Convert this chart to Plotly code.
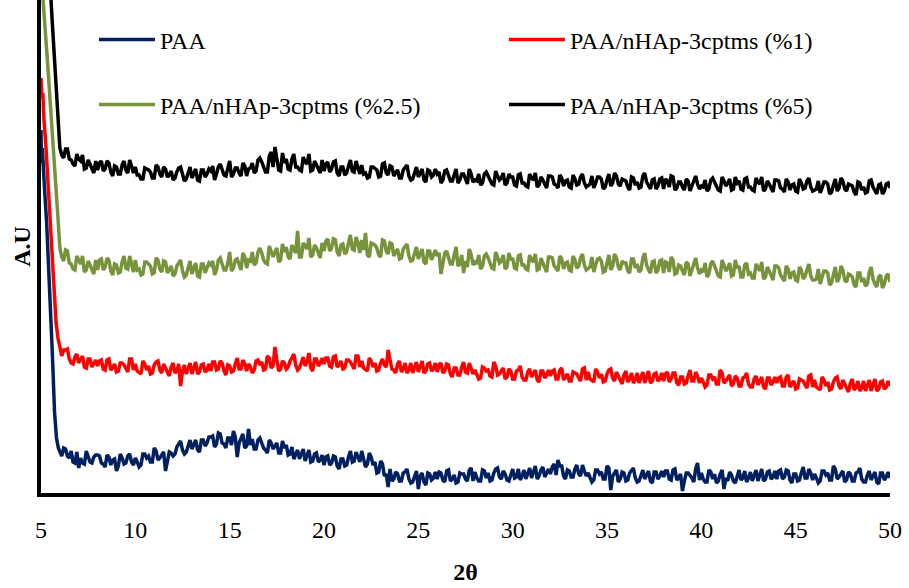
import plotly.graph_objects as go

# ---- data (2-theta grid shared by all scans, intensities in arbitrary units) ----
TWO_THETA = [
    6.0, 6.1, 6.2, 6.3, 6.4, 6.5, 6.6, 6.7, 6.8, 6.9, 7.0, 7.1, 7.2, 7.3, 7.4, 7.5, 7.6, 7.7, 7.8, 7.9,
    8.0, 8.1, 8.2, 8.3, 8.4, 8.5, 8.6, 8.7, 8.8, 8.9, 9.0, 9.1, 9.2, 9.3, 9.4, 9.5, 9.6, 9.7, 9.8, 9.9,
    10.0, 10.1, 10.2, 10.3, 10.4, 10.5, 10.6, 10.7, 10.8, 10.9, 11.0, 11.1, 11.2, 11.3, 11.4, 11.5, 11.6, 11.7, 11.8, 11.9,
    12.0, 12.1, 12.2, 12.3, 12.4, 12.5, 12.6, 12.7, 12.8, 12.9, 13.0, 13.1, 13.2, 13.3, 13.4, 13.5, 13.6, 13.7, 13.8, 13.9,
    14.0, 14.1, 14.2, 14.3, 14.4, 14.5, 14.6, 14.7, 14.8, 14.9, 15.0, 15.1, 15.2, 15.3, 15.4, 15.5, 15.6, 15.7, 15.8, 15.9,
    16.0, 16.1, 16.2, 16.3, 16.4, 16.5, 16.6, 16.7, 16.8, 16.9, 17.0, 17.1, 17.2, 17.3, 17.4, 17.5, 17.6, 17.7, 17.8, 17.9,
    18.0, 18.1, 18.2, 18.3, 18.4, 18.5, 18.6, 18.7, 18.8, 18.9, 19.0, 19.1, 19.2, 19.3, 19.4, 19.5, 19.6, 19.7, 19.8, 19.9,
    20.0, 20.1, 20.2, 20.3, 20.4, 20.5, 20.6, 20.7, 20.8, 20.9, 21.0, 21.1, 21.2, 21.3, 21.4, 21.5, 21.6, 21.7, 21.8, 21.9,
    22.0, 22.1, 22.2, 22.3, 22.4, 22.5, 22.6, 22.7, 22.8, 22.9, 23.0, 23.1, 23.2, 23.3, 23.4, 23.5, 23.6, 23.7, 23.8, 23.9,
    24.0, 24.1, 24.2, 24.3, 24.4, 24.5, 24.6, 24.7, 24.8, 24.9, 25.0, 25.1, 25.2, 25.3, 25.4, 25.5, 25.6, 25.7, 25.8, 25.9,
    26.0, 26.1, 26.2, 26.3, 26.4, 26.5, 26.6, 26.7, 26.8, 26.9, 27.0, 27.1, 27.2, 27.3, 27.4, 27.5, 27.6, 27.7, 27.8, 27.9,
    28.0, 28.1, 28.2, 28.3, 28.4, 28.5, 28.6, 28.7, 28.8, 28.9, 29.0, 29.1, 29.2, 29.3, 29.4, 29.5, 29.6, 29.7, 29.8, 29.9,
    30.0, 30.1, 30.2, 30.3, 30.4, 30.5, 30.6, 30.7, 30.8, 30.9, 31.0, 31.1, 31.2, 31.3, 31.4, 31.5, 31.6, 31.7, 31.8, 31.9,
    32.0, 32.1, 32.2, 32.3, 32.4, 32.5, 32.6, 32.7, 32.8, 32.9, 33.0, 33.1, 33.2, 33.3, 33.4, 33.5, 33.6, 33.7, 33.8, 33.9,
    34.0, 34.1, 34.2, 34.3, 34.4, 34.5, 34.6, 34.7, 34.8, 34.9, 35.0, 35.1, 35.2, 35.3, 35.4, 35.5, 35.6, 35.7, 35.8, 35.9,
    36.0, 36.1, 36.2, 36.3, 36.4, 36.5, 36.6, 36.7, 36.8, 36.9, 37.0, 37.1, 37.2, 37.3, 37.4, 37.5, 37.6, 37.7, 37.8, 37.9,
    38.0, 38.1, 38.2, 38.3, 38.4, 38.5, 38.6, 38.7, 38.8, 38.9, 39.0, 39.1, 39.2, 39.3, 39.4, 39.5, 39.6, 39.7, 39.8, 39.9,
    40.0, 40.1, 40.2, 40.3, 40.4, 40.5, 40.6, 40.7, 40.8, 40.9, 41.0, 41.1, 41.2, 41.3, 41.4, 41.5, 41.6, 41.7, 41.8, 41.9,
    42.0, 42.1, 42.2, 42.3, 42.4, 42.5, 42.6, 42.7, 42.8, 42.9, 43.0, 43.1, 43.2, 43.3, 43.4, 43.5, 43.6, 43.7, 43.8, 43.9,
    44.0, 44.1, 44.2, 44.3, 44.4, 44.5, 44.6, 44.7, 44.8, 44.9, 45.0, 45.1, 45.2, 45.3, 45.4, 45.5, 45.6, 45.7, 45.8, 45.9,
    46.0, 46.1, 46.2, 46.3, 46.4, 46.5, 46.6, 46.7, 46.8, 46.9, 47.0, 47.1, 47.2, 47.3, 47.4, 47.5, 47.6, 47.7, 47.8, 47.9,
    48.0, 48.1, 48.2, 48.3, 48.4, 48.5, 48.6, 48.7, 48.8, 48.9, 49.0, 49.1, 49.2, 49.3, 49.4, 49.5, 49.6, 49.7, 49.8, 49.9,
    50.0,
]

# steep low-angle rise of each scan (5-6 degrees)
PAA_HEAD_X = [5.0, 5.03, 5.07, 5.12, 5.2, 5.3, 5.45, 5.6, 5.72, 5.82, 5.92]
PAA_HEAD_Y = [363, 330, 345, 320, 300, 270, 210, 140, 80, 55, 45]
P1_HEAD_X = [5.0, 5.05, 5.1, 5.15, 5.25, 5.4, 5.55, 5.7, 5.8, 5.9]
P1_HEAD_Y = [415, 395, 400, 375, 350, 300, 250, 195, 170, 155]
P25_HEAD_X = [5.0, 5.1, 5.35, 5.6, 5.8, 5.9]
P25_HEAD_Y = [650, 495, 430, 365, 305, 275]
P5_HEAD_X = [5.0, 5.45, 5.6, 5.75, 5.85, 5.93]
P5_HEAD_Y = [900, 520, 470, 420, 380, 355]

PAA = [
    42, 37, 45, 44, 37, 35, 42, 31, 30, 41, 25, 35, 30, 29, 42, 37, 31, 30, 36, 38,
    38, 37, 30, 29, 26, 38, 36, 28, 33, 34, 22, 27, 39, 35, 29, 30, 37, 39, 31, 28,
    35, 31, 26, 28, 39, 39, 35, 37, 31, 31, 45, 42, 33, 35, 39, 41, 22, 33, 41, 40,
    37, 39, 46, 49, 52, 43, 39, 41, 48, 53, 44, 49, 53, 43, 41, 53, 53, 47, 50, 56,
    56, 57, 46, 49, 60, 59, 50, 49, 45, 55, 55, 48, 62, 56, 36, 50, 54, 59, 45, 47,
    64, 48, 54, 44, 44, 53, 55, 50, 45, 43, 40, 53, 50, 44, 47, 50, 40, 40, 52, 45,
    48, 38, 39, 46, 34, 38, 43, 34, 39, 44, 32, 38, 43, 31, 32, 39, 40, 31, 33, 38,
    28, 36, 37, 28, 30, 37, 36, 27, 24, 34, 34, 27, 28, 36, 42, 31, 32, 41, 37, 31,
    42, 34, 26, 29, 40, 36, 28, 31, 20, 21, 32, 29, 17, 19, 6, 24, 12, 14, 21, 19,
    12, 12, 20, 21, 24, 14, 10, 11, 18, 22, 4, 17, 20, 11, 8, 20, 19, 13, 15, 21,
    14, 21, 20, 13, 11, 22, 23, 12, 14, 18, 10, 11, 20, 19, 19, 14, 12, 23, 25, 12,
    21, 15, 12, 12, 23, 22, 15, 20, 12, 13, 20, 24, 25, 16, 14, 22, 19, 13, 12, 19,
    24, 15, 16, 24, 13, 17, 23, 14, 20, 25, 15, 20, 27, 14, 17, 23, 26, 16, 20, 24,
    19, 26, 29, 18, 33, 27, 27, 17, 14, 23, 22, 16, 16, 24, 28, 19, 17, 28, 22, 17,
    20, 16, 11, 13, 23, 23, 19, 21, 14, 14, 27, 25, 3, 17, 20, 23, 11, 14, 21, 20,
    12, 13, 20, 22, 25, 15, 11, 12, 19, 23, 14, 18, 22, 12, 10, 21, 21, 14, 17, 22,
    16, 22, 22, 14, 13, 23, 24, 13, 15, 19, 2, 12, 20, 20, 18, 15, 11, 24, 30, 13,
    20, 14, 11, 11, 23, 21, 14, 19, 10, 12, 19, 23, 4, 15, 12, 21, 18, 12, 10, 18,
    23, 13, 15, 22, 11, 15, 21, 12, 18, 23, 12, 18, 24, 12, 14, 21, 22, 14, 16, 22,
    14, 22, 23, 14, 16, 23, 22, 13, 10, 19, 19, 12, 13, 20, 26, 15, 15, 24, 20, 13,
    19, 15, 10, 12, 22, 22, 18, 20, 13, 13, 27, 24, 14, 16, 20, 22, 11, 13, 21, 19,
    12, 12, 20, 21, 25, 14, 11, 11, 18, 22, 13, 17, 21, 11, 9, 20, 20, 13, 16, 21,
    15,
]

P1 = [
    145, 137, 143, 143, 144, 134, 130, 129, 136, 139, 130, 133, 137, 126, 125, 134, 134, 126, 129, 133,
    127, 132, 133, 124, 123, 133, 134, 123, 125, 129, 121, 122, 130, 130, 128, 125, 121, 134, 134, 123,
    129, 122, 120, 119, 132, 129, 123, 127, 119, 120, 128, 131, 132, 123, 120, 129, 125, 120, 117, 126,
    130, 120, 122, 129, 107, 122, 128, 119, 125, 130, 119, 125, 131, 119, 121, 128, 129, 121, 123, 129,
    122, 131, 131, 123, 124, 132, 130, 122, 118, 128, 127, 121, 122, 129, 135, 124, 124, 133, 129, 122,
    129, 126, 120, 123, 132, 133, 128, 131, 123, 124, 137, 135, 125, 127, 146, 133, 122, 124, 132, 130,
    124, 126, 132, 135, 139, 128, 123, 125, 131, 136, 127, 131, 140, 125, 122, 134, 134, 127, 130, 135,
    129, 135, 135, 127, 126, 136, 137, 126, 128, 132, 124, 125, 133, 133, 131, 128, 124, 137, 137, 126,
    132, 125, 123, 122, 135, 132, 126, 130, 122, 123, 130, 134, 128, 126, 143, 132, 124, 123, 120, 129,
    132, 121, 124, 130, 120, 123, 130, 120, 127, 131, 121, 126, 132, 120, 122, 129, 130, 122, 124, 130,
    121, 128, 130, 120, 122, 129, 128, 119, 116, 125, 125, 118, 118, 126, 131, 121, 120, 130, 125, 119,
    123, 118, 114, 115, 126, 125, 122, 123, 117, 116, 131, 127, 118, 119, 123, 125, 114, 116, 124, 122,
    114, 114, 122, 123, 127, 116, 113, 113, 121, 124, 116, 119, 123, 113, 111, 122, 122, 115, 118, 123,
    117, 122, 123, 114, 114, 123, 125, 113, 116, 119, 112, 112, 121, 120, 119, 115, 112, 124, 125, 113,
    121, 114, 112, 111, 124, 121, 115, 119, 111, 112, 119, 123, 124, 115, 112, 121, 117, 112, 109, 118,
    122, 111, 114, 120, 110, 113, 120, 110, 116, 121, 110, 116, 122, 110, 112, 119, 120, 112, 114, 120,
    112, 119, 121, 111, 114, 120, 120, 110, 108, 116, 116, 109, 110, 117, 123, 112, 112, 121, 117, 110,
    115, 111, 106, 108, 118, 118, 114, 116, 109, 109, 123, 120, 110, 112, 116, 118, 107, 109, 117, 115,
    107, 107, 115, 116, 120, 109, 106, 106, 114, 117, 108, 112, 116, 106, 104, 115, 115, 108, 111, 116,
    110, 115, 116, 107, 107, 116, 118, 106, 109, 112, 104, 105, 114, 113, 112, 108, 105, 117, 118, 106,
    113, 106, 104, 103, 116, 113, 107, 111, 103, 104, 111, 115, 116, 107, 104, 113, 109, 104, 101, 110,
    114, 103, 106, 112, 102, 105, 112, 102, 109, 113, 102, 108, 114, 102, 104, 111, 112, 104, 106, 112,
    107,
]

P25 = [
    245, 236, 232, 243, 242, 230, 229, 224, 223, 237, 233, 229, 237, 221, 223, 232, 228, 223, 219, 233,
    223, 233, 234, 223, 226, 235, 233, 222, 218, 229, 228, 220, 221, 231, 237, 225, 224, 237, 230, 221,
    233, 223, 224, 218, 219, 231, 231, 229, 227, 219, 220, 235, 233, 224, 221, 232, 231, 220, 224, 227,
    217, 219, 227, 231, 233, 222, 216, 218, 225, 232, 219, 225, 230, 217, 216, 229, 229, 220, 224, 230,
    228, 232, 218, 223, 233, 235, 229, 223, 223, 230, 241, 222, 225, 233, 234, 228, 223, 240, 236, 225,
    233, 232, 241, 228, 230, 241, 245, 240, 233, 230, 229, 247, 242, 236, 241, 245, 231, 233, 249, 241,
    246, 236, 234, 248, 244, 240, 262, 236, 236, 250, 247, 244, 255, 236, 238, 248, 245, 240, 235, 250,
    242, 252, 254, 242, 245, 254, 253, 241, 237, 248, 249, 239, 241, 250, 258, 244, 243, 256, 250, 240,
    253, 243, 260, 238, 236, 250, 249, 248, 245, 238, 236, 253, 252, 242, 239, 250, 249, 237, 241, 244,
    234, 235, 244, 247, 249, 237, 232, 233, 240, 246, 234, 239, 244, 231, 229, 242, 242, 233, 237, 243,
    237, 240, 219, 230, 240, 242, 235, 229, 229, 236, 246, 227, 229, 238, 220, 232, 226, 244, 238, 228,
    231, 229, 238, 224, 227, 237, 239, 235, 229, 225, 224, 241, 236, 230, 232, 238, 224, 226, 240, 233,
    235, 225, 224, 237, 238, 228, 228, 224, 223, 238, 233, 231, 239, 223, 224, 235, 230, 226, 221, 236,
    236, 235, 227, 225, 222, 237, 234, 224, 230, 231, 223, 222, 237, 233, 225, 227, 235, 239, 228, 223,
    225, 226, 236, 221, 228, 234, 235, 232, 221, 222, 230, 238, 223, 227, 239, 235, 226, 223, 232, 230,
    230, 222, 220, 234, 234, 225, 229, 221, 223, 235, 240, 228, 223, 220, 231, 232, 220, 223, 232, 233,
    220, 231, 230, 221, 236, 233, 219, 220, 228, 227, 222, 218, 231, 229, 217, 223, 230, 235, 225, 219,
    223, 221, 230, 216, 219, 229, 232, 227, 222, 217, 216, 233, 228, 222, 225, 230, 217, 218, 233, 225,
    227, 216, 216, 228, 230, 219, 220, 215, 215, 229, 226, 222, 231, 214, 216, 226, 222, 217, 213, 227,
    227, 225, 218, 215, 212, 227, 224, 214, 220, 221, 213, 212, 226, 223, 214, 217, 224, 229, 217, 213,
    213, 214, 224, 209, 216, 222, 222, 220, 208, 210, 218, 226, 211, 215, 227, 223, 213, 211, 219, 218,
    216, 208, 206, 220, 220, 211, 215, 207, 209, 221, 226, 214, 209, 206, 216, 218, 205, 209, 217, 219,
    211,
]

P5 = [
    345, 338, 335, 344, 344, 334, 333, 329, 327, 339, 334, 332, 338, 324, 325, 333, 329, 325, 320, 332,
    323, 330, 332, 322, 324, 332, 330, 321, 317, 327, 326, 319, 319, 328, 332, 323, 320, 333, 325, 320,
    326, 318, 318, 314, 314, 325, 324, 323, 321, 315, 315, 328, 326, 319, 316, 326, 324, 316, 318, 322,
    313, 315, 321, 325, 326, 317, 312, 314, 320, 326, 315, 320, 324, 313, 312, 323, 323, 316, 319, 324,
    322, 327, 313, 319, 326, 329, 322, 318, 317, 324, 332, 316, 319, 325, 325, 320, 317, 330, 327, 317,
    324, 325, 330, 320, 322, 333, 335, 331, 325, 321, 321, 337, 341, 326, 346, 334, 323, 322, 340, 330,
    334, 324, 323, 334, 339, 326, 326, 323, 322, 336, 331, 329, 339, 322, 323, 332, 328, 325, 320, 333,
    322, 329, 331, 321, 324, 331, 332, 320, 317, 326, 326, 318, 320, 327, 333, 322, 321, 332, 326, 319,
    328, 319, 320, 315, 316, 326, 326, 324, 323, 316, 317, 329, 330, 320, 318, 327, 326, 317, 320, 323,
    315, 315, 323, 325, 328, 317, 313, 314, 321, 326, 316, 320, 324, 313, 311, 323, 322, 316, 318, 324,
    319, 321, 310, 313, 322, 323, 318, 312, 312, 318, 324, 310, 313, 319, 319, 314, 309, 324, 319, 311,
    313, 312, 319, 308, 310, 319, 321, 317, 312, 309, 308, 322, 317, 313, 315, 320, 308, 310, 319, 316,
    316, 308, 307, 318, 319, 310, 310, 307, 306, 319, 315, 313, 320, 306, 308, 316, 313, 309, 305, 317,
    317, 316, 309, 308, 305, 318, 315, 307, 312, 313, 306, 305, 318, 314, 308, 309, 316, 319, 310, 306,
    308, 309, 317, 305, 310, 316, 316, 314, 304, 306, 313, 319, 307, 310, 320, 317, 309, 307, 314, 313,
    312, 306, 303, 316, 315, 308, 311, 305, 306, 317, 320, 311, 307, 304, 313, 314, 304, 307, 314, 315,
    304, 314, 312, 306, 317, 316, 303, 305, 311, 311, 306, 303, 314, 312, 302, 307, 313, 317, 309, 304,
    307, 306, 313, 302, 304, 313, 315, 311, 306, 303, 302, 316, 312, 307, 310, 314, 303, 304, 316, 310,
    312, 304, 303, 314, 315, 306, 306, 303, 302, 315, 311, 309, 316, 302, 304, 312, 309, 305, 301, 313,
    313, 312, 305, 304, 301, 314, 311, 303, 308, 309, 302, 301, 314, 310, 304, 305, 312, 315, 306, 302,
    303, 304, 312, 300, 305, 311, 311, 309, 299, 301, 308, 314, 302, 305, 315, 312, 304, 302, 309, 308,
    307, 301, 298, 311, 310, 303, 306, 300, 301, 312, 313, 306, 302, 299, 308, 309, 299, 302, 309, 310,
    305,
]

SERIES_NAMES = ["PAA", "PAA/nHAp-3cptms (%1)", "PAA/nHAp-3cptms (%2.5)", "PAA/nHAp-3cptms (%5)"]
X_TICKS = [5, 10, 15, 20, 25, 30, 35, 40, 45, 50]

# ---- figure ----
FONT = "Liberation Serif, Times New Roman, serif"
colors = ["#002060", "#FF0000", "#77933C", "#000000"]
heads = [(PAA_HEAD_X, PAA_HEAD_Y), (P1_HEAD_X, P1_HEAD_Y),
         (P25_HEAD_X, P25_HEAD_Y), (P5_HEAD_X, P5_HEAD_Y)]
bodies = [PAA, P1, P25, P5]
legends = ["legend", "legend2", "legend3", "legend4"]

fig = go.Figure()
for name, col, (hx, hy), body, lg in zip(SERIES_NAMES, colors, heads, bodies, legends):
    fig.add_trace(go.Scatter(
        x=hx + TWO_THETA, y=hy + body, mode="lines", name=name,
        line=dict(color=col, width=3.5), legend=lg,
    ))

leg_common = dict(orientation="h", xanchor="left", yanchor="middle", itemwidth=56,
                  font=dict(family=FONT, size=24, color="black"),
                  bgcolor="rgba(0,0,0,0)")

fig.update_layout(
    width=909, height=588,
    margin=dict(l=41, r=19, t=0, b=95),
    paper_bgcolor="white", plot_bgcolor="white",
    font=dict(family=FONT, size=24, color="black"),
    showlegend=True,
    legend=dict(x=0.0624, y=0.919, **leg_common),
    legend2=dict(x=0.5453, y=0.919, **leg_common),
    legend3=dict(x=0.0624, y=0.787, **leg_common),
    legend4=dict(x=0.5453, y=0.787, **leg_common),
    xaxis=dict(range=[5, 50], tickvals=X_TICKS, ticktext=[str(t) for t in X_TICKS],
               showline=True, linewidth=4, linecolor="black", mirror=False,
               showgrid=False, zeroline=False, ticks="", ticklabelstandoff=12,
               tickfont=dict(family=FONT, size=24, color="black"),
               title=dict(text="2θ", font=dict(family=FONT, size=24, weight="bold"), standoff=22)),
    yaxis=dict(range=[0, 493], showline=True, linewidth=4, linecolor="black",
               showgrid=False, zeroline=False, showticklabels=False, ticks="",
               title=dict(text="A.U", font=dict(family=FONT, size=24, weight="bold"), standoff=1)),
)

fig.write_html("out.html")
